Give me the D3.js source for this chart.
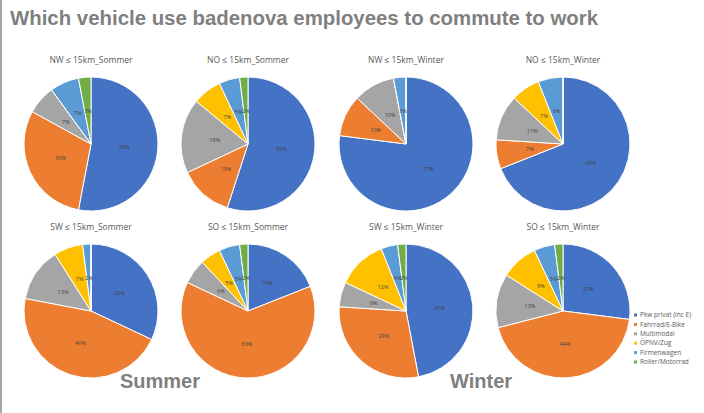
<!DOCTYPE html>
<html><head><meta charset="utf-8">
<script src="https://cdn.jsdelivr.net/npm/d3@7/dist/d3.min.js"></script>
<style>body{margin:0;background:#fff}svg{display:block}</style>
</head><body><svg id="c" width="704" height="413"></svg>
<script>
const categories = ["Pkw privat (inc E)", "Fahrrad/E-Bike", "Multimodal", "ÖPNV/Zug", "Firmenwagen", "Roller/Motorrad"];
const colors = ["#4472C4", "#ED7D31", "#A5A5A5", "#FFC000", "#5B9BD5", "#70AD47"];
const chartTitles = ["NW ≤ 15km_Sommer", "NO ≤ 15km_Sommer", "NW ≤ 15km_Winter", "NO ≤ 15km_Winter",
                     "SW ≤ 15km_Sommer", "SO ≤ 15km_Sommer", "SW ≤ 15km_Winter", "SO ≤ 15km_Winter"];
const nwSommer = [53, 30, 7, 0, 7, 3];
const noSommer = [55, 13, 18, 7, 5, 2];
const nwWinter = [77, 10, 10, 0, 3, 0];
const noWinter = [69, 7, 11, 7, 6, 0];
const swSommer = [32, 46, 13, 7, 2, 0];
const soSommer = [19, 63, 6, 5, 5, 2];
const swWinter = [47, 29, 6, 12, 4, 2];
const soWinter = [27, 44, 13, 9, 5, 2];
const seriesValues = [nwSommer, noSommer, nwWinter, noWinter, swSommer, soSommer, swWinter, soWinter];
const mainTitle = "Which vehicle use badenova employees to commute to work";
const seasonLabels = ["Summer", "Winter"];

const svg = d3.select("#c");
svg.append("rect").attr("x",0).attr("y",0).attr("width",704).attr("height",413).attr("fill","#fff");
svg.append("rect").attr("x",0).attr("y",0).attr("width",2).attr("height",413).attr("fill","#a6a6a6");

svg.append("text").attr("x",10).attr("y",25)
  .attr("font-family","Liberation Sans, Arial, sans-serif").attr("font-weight","bold")
  .attr("font-size",20.4).attr("fill","#7f7f7f").text(mainTitle);

const colX = [91, 248, 406, 563];
const rowY = [144, 311];
const R = 67;
const color = d3.scaleOrdinal().domain(categories).range(colors);
const pie = d3.pie().sort(null).value(d => d.v);
const arc = d3.arc().innerRadius(0).outerRadius(R);
const labelArc = d3.arc().innerRadius(R*0.5).outerRadius(R*0.5);

seriesValues.forEach((vals, i) => {
  const cx = colX[i % 4], cy = rowY[Math.floor(i / 4)];
  const g = svg.append("g").attr("transform", `translate(${cx},${cy})`);
  const data = pie(vals.map((v, k) => ({v, c: categories[k]})));
  g.selectAll("path").data(data).join("path")
    .attr("d", arc).attr("fill", d => color(d.data.c))
    .attr("stroke", "#fff").attr("stroke-width", 1);
  g.selectAll("text.l").data(data.filter(d => d.data.v > 0)).join("text")
    .attr("class","l")
    .attr("transform", d => `translate(${labelArc.centroid(d)})`)
    .attr("text-anchor","middle").attr("dy","0.35em")
    .attr("font-family","Open Sans, sans-serif").attr("font-size",5.5)
    .attr("fill","#404040").text(d => d.data.v + "%");
  svg.append("text").attr("x", cx).attr("y", cy - R - 14)
    .attr("text-anchor","middle")
    .attr("font-family","Open Sans, sans-serif").attr("font-size",8.5)
    .attr("fill","#595959").text(chartTitles[i]);
});

[[120, seasonLabels[0]], [450, seasonLabels[1]]].forEach(([x, t]) => {
  svg.append("text").attr("x", x).attr("y", 388)
    .attr("font-family","Liberation Sans, Arial, sans-serif").attr("font-weight","bold")
    .attr("font-size",20).attr("fill","#7f7f7f").text(t);
});

const lg = svg.append("g").attr("transform","translate(634,315)");
categories.forEach((c, k) => {
  const row = lg.append("g").attr("transform", `translate(0,${k*9.4})`);
  row.append("rect").attr("x",0).attr("y",-1.5).attr("width",3).attr("height",3).attr("fill", color(c));
  row.append("text").attr("x",6).attr("y",0).attr("dy","0.35em")
    .attr("font-family","Open Sans, sans-serif").attr("font-size",6.5)
    .attr("fill","#595959").text(c);
});
</script></body></html>
